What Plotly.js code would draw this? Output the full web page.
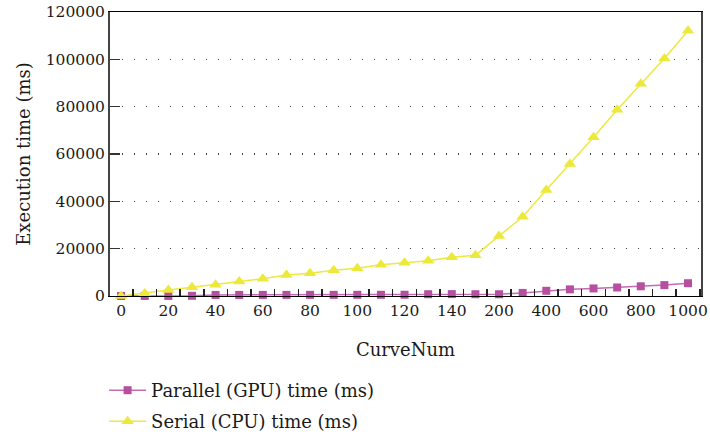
<!DOCTYPE html>
<html>
<head>
<meta charset="utf-8">
<script src="https://cdn.plot.ly/plotly-3.0.1.min.js"></script>
<style>html,body{margin:0;padding:0;background:#fff;}#chart{width:710px;height:440px;}</style>
</head>
<body>
<div id="chart"></div>
<script>
const curveNum = [0, 10, 20, 30, 40, 50, 60, 70, 80, 90, 100, 110, 120, 130, 140, 150, 200, 300, 400, 500, 600, 700, 800, 900, 1000];
const parallelGPU = [10, 20, 40, 80, 450, 460, 470, 480, 490, 500, 510, 520, 540, 750, 800, 750, 750, 1300, 2200, 2800, 3200, 3600, 4100, 4600, 5400];
const serialCPU = [0, 1100, 2500, 3700, 4800, 6100, 7300, 8900, 9600, 10900, 11700, 13200, 14000, 14900, 16400, 17200, 25400, 33500, 44800, 55800, 67100, 78700, 89700, 100400, 112100];
const xTickLabels = ["0", "20", "40", "60", "80", "100", "120", "140", "200", "400", "600", "800", "1000"];
const seriesNames = ["Parallel (GPU) time (ms)", "Serial (CPU) time (ms)"];

const xIdx = curveNum.map((c, i) => i);
const tickIdx = xTickLabels.map(l => curveNum.indexOf(Number(l)));
const FONT = "DejaVu Serif, serif";
const TXT = "#1a1a1a";

const traces = [
  {
    x: xIdx, y: parallelGPU, name: seriesNames[0], type: "scatter", mode: "lines+markers",
    legend: "legend",
    line: {color: "#c46bb5", width: 1.5},
    marker: {symbol: "square", size: 8, color: "#b64f9f"},
    cliponaxis: false
  },
  {
    x: xIdx, y: serialCPU, name: seriesNames[1], type: "scatter", mode: "lines+markers",
    legend: "legend2",
    line: {color: "#ece93f", width: 1.5},
    marker: {symbol: "triangle-up", size: 11, color: "#ece93a"},
    cliponaxis: false
  }
];

const legendBase = {
  x: -0.01, xanchor: "left", yanchor: "bottom",
  orientation: "v", itemwidth: 37,
  font: {family: FONT, size: 18, color: TXT},
  bgcolor: "rgba(0,0,0,0)"
};

const layout = {
  width: 710, height: 440,
  margin: {l: 110, r: 9, t: 12, b: 0},
  paper_bgcolor: "#fff", plot_bgcolor: "#fff",
  font: {family: FONT, size: 18, color: TXT},
  showlegend: true,
  legend: Object.assign({}, legendBase, {y: 0.0724}),
  legend2: Object.assign({}, legendBase, {y: 0}),
  xaxis: {
    type: "linear", range: [-0.47, 24.55],
    tickmode: "array", tickvals: tickIdx, ticktext: xTickLabels, tickangle: 0,
    ticks: "", showgrid: false, zeroline: false,
    showline: true, linecolor: "#000", linewidth: 1.5, mirror: true,
    tickfont: {family: FONT, size: 15.5, color: TXT},
    minor: {ticks: "inside", tickmode: "linear", tick0: 0.5, dtick: 1, ticklen: 7, tickwidth: 1.5, tickcolor: "#222", showgrid: false},
    title: {text: "CurveNum", font: {family: FONT, size: 18, color: TXT}, standoff: 24}
  },
  yaxis: {
    domain: [0.33645, 1],
    range: [0, 120000], dtick: 20000, tick0: 0, tickformat: "d",
    ticks: "inside", ticklen: 10, tickwidth: 1.5, tickcolor: "#333",
    showgrid: true, gridcolor: "#444", gridwidth: 1.3, griddash: "1px,11px",
    zeroline: false,
    showline: true, linecolor: "#444", linewidth: 2, mirror: true,
    tickfont: {family: FONT, size: 15.5, color: TXT},
    title: {text: "Execution time (ms)", font: {family: FONT, size: 18, color: TXT}, standoff: 10}
  }
};

Plotly.newPlot("chart", traces, layout, {displayModeBar: false, staticPlot: true});
</script>
</body>
</html>
